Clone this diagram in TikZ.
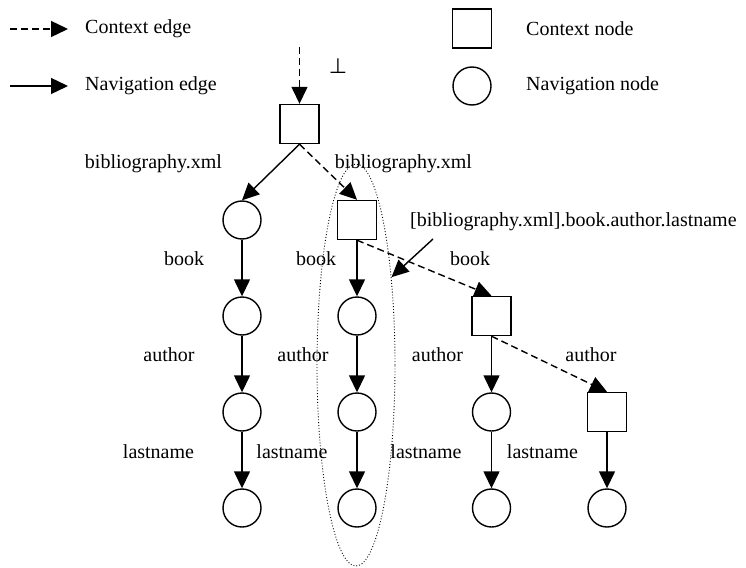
\documentclass[tikz,border=0pt]{standalone}
\usepackage{fontspec}
\setmainfont{Liberation Serif}
\newfontfamily\symbolfont{DejaVu Sans}
\usetikzlibrary{arrows.meta,shapes.geometric}
\begin{document}
\begin{tikzpicture}[x=1pt,y=-1pt,
  ctx/.style={draw, rectangle, line width=1.4pt, minimum size=39pt, inner sep=0pt},
  nav/.style={draw, circle, line width=1.4pt, minimum size=38pt, inner sep=0pt},
  lbl/.style={font=\fontsize{20}{24}\selectfont, inner sep=0pt},
  navedge/.style={-{Triangle[length=17pt,width=16pt]}, line width=1.4pt},
  ctxedge/.style={navedge, dash pattern=on 7pt off 4pt},
  selection/.style={draw, ellipse, dotted, line width=0.9pt, minimum width=78pt, minimum height=402pt, inner sep=0pt}]
\useasboundingbox (0,0) rectangle (746,567);

% legend
\coordinate (lc1) at (10,29);
\coordinate (lc2) at (68,29);
\coordinate (ln1) at (10,86);
\coordinate (ln2) at (68,86);
\draw[ctxedge] (lc1) -- (lc2);
\draw[navedge] (ln1) -- (ln2);
\node[lbl, anchor=west] (lctxe) at (85,29) {Context edge};
\node[lbl, anchor=west] (lnave) at (85,86) {Navigation edge};
\node[ctx] (lctxn) at (472,28.5) {};
\node[nav] (lnavn) at (472,86) {};
\node[lbl, anchor=west] (lctxt) at (526,29) {Context node};
\node[lbl, anchor=west] (lnavt) at (526,86) {Navigation node};

% root
\coordinate (top) at (299.5,47);
\node[ctx] (r) at (299.5,124) {};
\draw[ctxedge] (top) -- (r.north);
\node[inner sep=0pt, font=\symbolfont\fontsize{21}{23}\selectfont] (bot) at (338,66) {⊥};

% column 1
\node[nav] (a1) at (242,220) {};
\node[nav] (a2) at (242,316) {};
\node[nav] (a3) at (242,412) {};
\node[nav] (a4) at (242,508) {};
% column 2
\node[ctx] (b1) at (357,220) {};
\node[nav] (b2) at (357,316) {};
\node[nav] (b3) at (357,412) {};
\node[nav] (b4) at (357,508) {};
% column 3
\node[ctx] (c2) at (491.5,316) {};
\node[nav] (c3) at (491.5,412) {};
\node[nav] (c4) at (491.5,508) {};
% column 4
\node[ctx] (d3) at (607,412) {};
\node[nav] (d4) at (607,508) {};

% edges
\draw[navedge] (r.south) -- (a1.north);
\draw[ctxedge] (r.south) -- (b1.north);
\draw[navedge] (a1) -- (a2);
\draw[navedge] (a2) -- (a3);
\draw[navedge] (a3) -- (a4);
\draw[navedge] (b1) -- (b2);
\draw[navedge] (b2) -- (b3);
\draw[navedge] (b3) -- (b4);
\draw[ctxedge] (b1.south) -- (c2.north);
\draw[navedge] (c2) -- (c3);
\draw[navedge] (c3) -- (c4);
\draw[ctxedge] (c2.south) -- (d3.north);
\draw[navedge] (d3) -- (d4);

% edge labels
\node[lbl] (t1) at (153.5,164) {bibliography.xml};
\node[lbl] (t2) at (403.5,164) {bibliography.xml};
\node[lbl] (k1) at (184,259) {book};
\node[lbl] (k2) at (316,259) {book};
\node[lbl] (k3) at (470,259) {book};
\node[lbl] (u1) at (169,355) {author};
\node[lbl] (u2) at (303,355) {author};
\node[lbl] (u3) at (437.5,355) {author};
\node[lbl] (u4) at (591,355) {author};
\node[lbl] (n1) at (158.5,452) {lastname};
\node[lbl] (n2) at (292,452) {lastname};
\node[lbl] (n3) at (426,452) {lastname};
\node[lbl] (n4) at (542.5,452) {lastname};

% selected path
\node[selection] (sel) at (356,365) {};
\node[lbl, anchor=west] (path) at (410,222) {[bibliography.xml].book.author.lastname};
\coordinate (pa) at (433,239);
\draw[navedge] (pa) -- (sel.68);
\end{tikzpicture}
\end{document}
